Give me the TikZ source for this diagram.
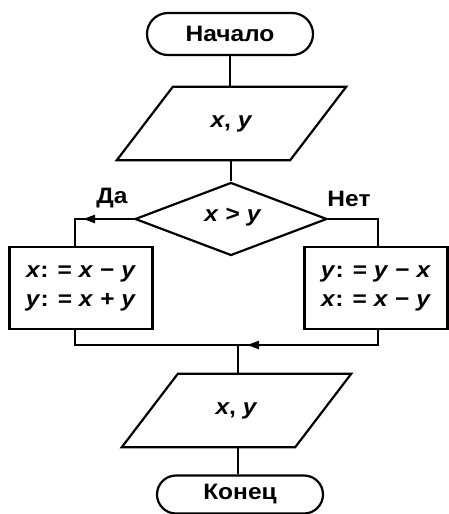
\documentclass[tikz,border=0pt]{standalone}
\usepackage{fontspec}
\setmainfont{Liberation Sans}[FakeStretch=1.1]
\usetikzlibrary{calc,arrows.meta,shapes.geometric,shapes.misc}
\begin{document}
\begin{tikzpicture}[x=1pt,y=-1pt,
  font=\fontsize{22.3}{29}\selectfont\bfseries,
  line/.style={draw=black, line width=2.2pt, line join=miter},
  term/.style={line, rounded rectangle, minimum width=166pt, inner sep=0pt},
  io/.style={minimum width=173pt, minimum height=73pt, inner sep=0pt},
  decbox/.style={line, diamond, aspect=2.63, minimum width=192pt, minimum height=73pt, inner sep=0pt},
  procbox/.style={line, rectangle, minimum width=143pt, minimum height=82pt, inner sep=0pt, align=center},
  arr/.style={line, -{Triangle[length=12pt,width=8pt]}},
  lab/.style={inner sep=0pt}]
\useasboundingbox (0,0) rectangle (449,514);

\node[term, minimum height=42pt] (start) at (230,34) {Начало};
\node[io] (in1) at (231.5,123.5) {\textit{x}, \textit{y}};
\draw[line] ($(in1.north west)+(28,0)$) -- ($(in1.north east)+(28,0)$)
  -- ($(in1.south east)+(-28,0)$) -- ($(in1.south west)+(-28,0)$) -- cycle;

\node[decbox] (dec) at (231,219) {};
\node[lab] (cond) at (233,217) {\textit{x} > \textit{y}};

\node[procbox] (procL) at (81,288) {\textit{x}: = \textit{x} − \textit{y}\\\textit{y}: = \textit{x} + \textit{y}};
\node[procbox] (procR) at (376,288) {\textit{y}: = \textit{y} − \textit{x}\\\textit{x}: = \textit{x} − \textit{y}};

\node[io] (in2) at (236.5,410.5) {\textit{x}, \textit{y}};
\draw[line] ($(in2.north west)+(28,0)$) -- ($(in2.north east)+(28,0)$)
  -- ($(in2.south east)+(-28,0)$) -- ($(in2.south west)+(-28,0)$) -- cycle;

\node[term, minimum height=38pt] (stop) at (240,494.5) {Конец};

\node[lab] (yes) at (112,198) {Да};
\node[lab] (no) at (349,199) {Нет};

\coordinate (cl) at (75,219);
\coordinate (cr) at (378,219);
\coordinate (m) at (238,345);

\draw[line] (start.south) -- (start.south |- in1.north);
\draw[line] (dec.north |- in1.south) -- (dec.north);
\draw[line] (dec.west) -- (cl) -- (cl |- procL.north);
\draw[arr] (dec.west) -- ($(cl)+(8,0)$);
\draw[line] (dec.east) -- (cr) -- (cr |- procR.north);
\draw[line] (cl |- procL.south) -- (cl |- m) -- (cr |- m) -- (cr |- procR.south);
\draw[arr] (cr |- m) -- ($(m)+(9,0)$);
\draw[line] (m) -- (m |- in2.north);
\draw[line] (m |- in2.south) -- (m |- stop.north);
\end{tikzpicture}
\end{document}
